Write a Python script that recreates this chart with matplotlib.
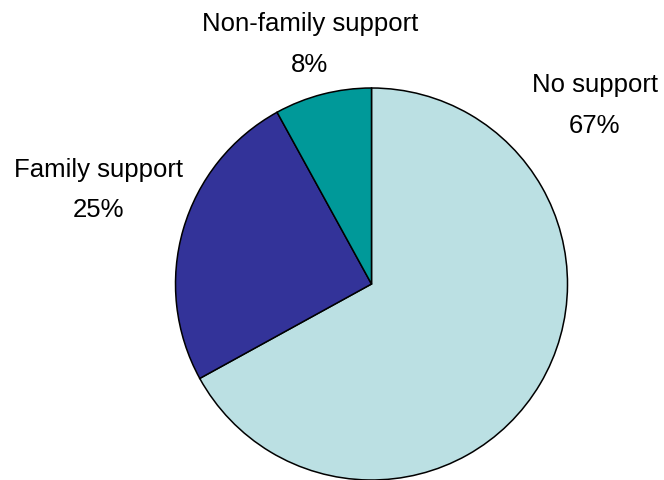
import matplotlib
matplotlib.use('Agg')
import matplotlib.pyplot as plt

# data
labels = ['No support', 'Family support', 'Non-family support']
values = [67, 25, 8]
colors = ['#BBE0E3', '#333399', '#009999']

plt.rcParams['font.family'] = ['Liberation Sans', 'DejaVu Sans']

W, H = 664, 480
fig = plt.figure(figsize=(W / 100, H / 100), dpi=100)

# pie centre (371.5, 284) px, radius 196 px
cx, cy, r = 371.5, 284, 196
ax = fig.add_axes([(cx - r) / W, (H - cy - r) / H, 2 * r / W, 2 * r / H])
wedges, _ = ax.pie(values, colors=colors, startangle=90, counterclock=False,
                   radius=1.0, wedgeprops={'edgecolor': 'black', 'linewidth': 1.1})
for w in wedges:
    w.set_clip_on(False)
ax.set_xlim(-1, 1)
ax.set_ylim(-1, 1)
ax.set_aspect('equal')
ax.axis('off')

# label placement in pixels: (centre x, baseline of name, baseline of percent)
label_pos = {
    'No support': (595, 92, 133),
    'Family support': (99, 177, 217),
    'Non-family support': (310, 31, 72),
}
for lab, val in zip(labels, values):
    x, y1, y2 = label_pos[lab]
    fig.text(x / W, 1 - y1 / H, lab, ha='center', va='baseline', fontsize=18.5)
    fig.text(x / W, 1 - y2 / H, f'{val}%', ha='center', va='baseline', fontsize=18.5)

fig.savefig('out.png', dpi=100)
